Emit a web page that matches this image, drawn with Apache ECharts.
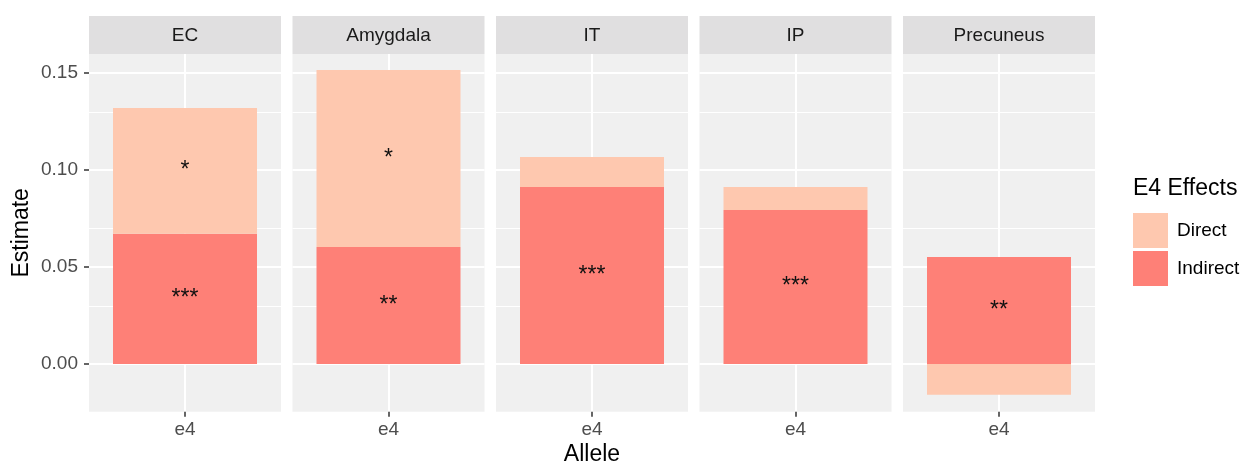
<!DOCTYPE html>
<html>
<head>
<meta charset="utf-8">
<script src="https://cdn.jsdelivr.net/npm/echarts@6/dist/echarts.min.js"></script>
<style>html,body{margin:0;padding:0;background:#fff}#c{width:1248px;height:465px}</style>
</head>
<body>
<div id="c"></div>
<script>
// ---- data ----
const regions = ['EC', 'Amygdala', 'IT', 'IP', 'Precuneus'];
const alleles = ['e4'];
const indirectValues = [0.0672, 0.0603, 0.0912, 0.0794, 0.0552];
const directValues = [0.0648, 0.0912, 0.0155, 0.0118, -0.0158];
const indirectSig = ['***', '**', '***', '***', '**'];
const directSig = ['*', '*', '', '', ''];
const yTicks = [0.00, 0.05, 0.10, 0.15];
const yMinor = [-0.025, 0.025, 0.075, 0.125];

// ---- layout ----
const Y_MIN = -0.0246, Y_MAX = 0.1598;
const panelLefts = [89, 292.5, 496, 699.5, 903];
const panelW = 192, panelTop = 54, panelH = 357.7, stripH = 38;
const COL_DIRECT = '#FEC8AF', COL_INDIRECT = '#FE8077';
const FONT = 'Liberation Sans, Arial, sans-serif';

const chart = echarts.init(document.getElementById('c'), null, {renderer: 'canvas'});

const grids = [], xAxes = [], yAxes = [], series = [], graphics = [];
regions.forEach((r, i) => {
  grids.push({left: panelLefts[i], top: panelTop, width: panelW, height: panelH,
    show: true, backgroundColor: '#F0F0F0', borderWidth: 0, containLabel: false});
  xAxes.push({type: 'category', gridIndex: i, data: alleles, boundaryGap: true, position: 'bottom',
    axisLine: {show: false, onZero: false},
    axisTick: {show: true, alignWithLabel: true, length: 5, lineStyle: {color: '#333', width: 1.5}},
    axisLabel: {color: '#4D4D4D', fontSize: 19, fontFamily: FONT, margin: 9},
    splitLine: {show: false}});
  yAxes.push({type: 'value', gridIndex: i, min: Y_MIN, max: Y_MAX,
    axisLine: {show: false},
    axisTick: {show: i === 0, length: 5, customValues: yTicks, lineStyle: {color: '#333', width: 1.5}},
    axisLabel: {show: i === 0, customValues: yTicks, color: '#4D4D4D', fontSize: 19, fontFamily: FONT, margin: 11,
      formatter: v => v.toFixed(2)},
    splitLine: {show: false}});
  // gridlines drawn from tick arrays
  const lines = [];
  yTicks.forEach(v => lines.push({yAxis: v, lineStyle: {color: '#fff', width: 2, type: 'solid'}}));
  yMinor.forEach(v => lines.push({yAxis: v, lineStyle: {color: '#fff', width: 1, type: 'solid'}}));
  alleles.forEach(a => lines.push({xAxis: a, lineStyle: {color: '#fff', width: 2, type: 'solid'}}));
  series.push({type: 'line', xAxisIndex: i, yAxisIndex: i, data: [], z: 0, silent: true,
    markLine: {silent: true, symbol: 'none', label: {show: false}, animation: false, data: lines, z: 0}});
  series.push({name: 'Indirect', type: 'bar', xAxisIndex: i, yAxisIndex: i, stack: 's' + i,
    barWidth: '75%', z: 2, itemStyle: {color: COL_INDIRECT},
    label: {show: true, position: 'inside', color: '#111', fontSize: 23, fontFamily: FONT,
      formatter: () => indirectSig[i]},
    data: [indirectValues[i]]});
  series.push({name: 'Direct', type: 'bar', xAxisIndex: i, yAxisIndex: i, stack: 's' + i,
    barWidth: '75%', z: 2, itemStyle: {color: COL_DIRECT},
    label: {show: directSig[i] !== '', position: 'inside', color: '#111', fontSize: 23, fontFamily: FONT,
      formatter: () => directSig[i]},
    data: [directValues[i]]});
  graphics.push({type: 'rect', left: panelLefts[i], top: panelTop - stripH,
    shape: {width: panelW, height: stripH}, style: {fill: '#E0DFE0'}});
  graphics.push({type: 'text', x: panelLefts[i] + panelW / 2, y: panelTop - stripH / 2 + 1,
    style: {text: r, fill: '#1A1A1A', font: '19px ' + FONT, textAlign: 'center', textVerticalAlign: 'middle'}});
});

graphics.push({type: 'text', x: 22, y: panelTop + panelH / 2, rotation: Math.PI / 2,
  style: {text: 'Estimate', fill: '#000', font: '23px ' + FONT, textAlign: 'center', textVerticalAlign: 'middle'}});
graphics.push({type: 'text', x: 592, y: 455,
  style: {text: 'Allele', fill: '#000', font: '23px ' + FONT, textAlign: 'center', textVerticalAlign: 'middle'}});
graphics.push({type: 'text', x: 1133, y: 189,
  style: {text: 'E4 Effects', fill: '#000', font: '23px ' + FONT, textAlign: 'left', textVerticalAlign: 'middle'}});

chart.setOption({
  animation: false,
  grid: grids, xAxis: xAxes, yAxis: yAxes, series: series,
  legend: {orient: 'vertical', left: 1133, top: 213, itemWidth: 35, itemHeight: 35, itemGap: 3,
    data: ['Direct', 'Indirect'], icon: 'rect',
    textStyle: {fontSize: 19, fontFamily: FONT, color: '#000', padding: [0, 0, 0, 4]},
    padding: 0, selectedMode: false},
  graphic: graphics
});
</script>
</body>
</html>
